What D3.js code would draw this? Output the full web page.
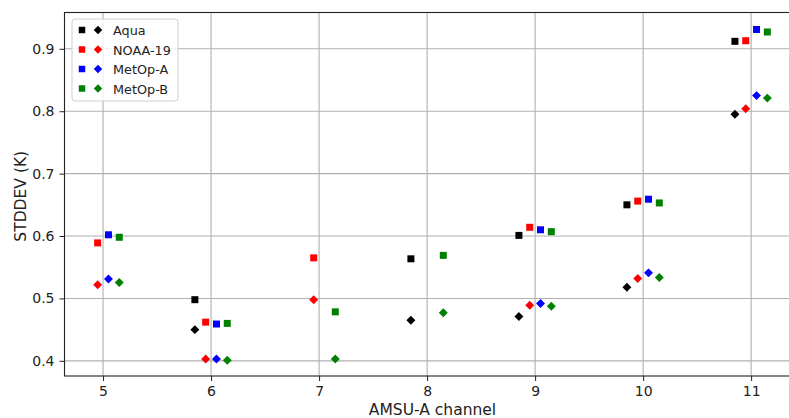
<!DOCTYPE html>
<html>
<head>
<meta charset="utf-8">
<script src="https://cdn.jsdelivr.net/npm/d3@7"></script>
<style>
  body { margin: 0; background: #fff; }
  text { font-family: "DejaVu Sans", sans-serif; fill: #222; }
</style>
</head>
<body>
<script>
// data: [channel, value]; squares + diamonds per satellite
var satellites = ["Aqua", "NOAA-19", "MetOp-A", "MetOp-B"];
var colors = ["#000000", "#ff0000", "#0000ff", "#008000"];
var offsets = [-0.15, -0.05, 0.05, 0.15];

var aquaSquare = [[6, 0.498], [8, 0.5635], [9, 0.601], [10, 0.650], [11, 0.912]];
var aquaDiamond = [[6, 0.450], [8, 0.465], [9, 0.471], [10, 0.518], [11, 0.795]];
var noaaSquare = [[5, 0.589], [6, 0.462], [7, 0.565], [9, 0.614], [10, 0.656], [11, 0.913]];
var noaaDiamond = [[5, 0.522], [6, 0.403], [7, 0.498], [9, 0.489], [10, 0.532], [11, 0.804]];
var metopaSquare = [[5, 0.602], [6, 0.459], [9, 0.610], [10, 0.659], [11, 0.931]];
var metopaDiamond = [[5, 0.531], [6, 0.403], [9, 0.492], [10, 0.541], [11, 0.825]];
var metopbSquare = [[5, 0.598], [6, 0.460], [7, 0.4785], [8, 0.569], [9, 0.607], [10, 0.653], [11, 0.927]];
var metopbDiamond = [[5, 0.5255], [6, 0.401], [7, 0.403], [8, 0.477], [9, 0.4875], [10, 0.5335], [11, 0.821]];

var squares = [aquaSquare, noaaSquare, metopaSquare, metopbSquare];
var diamonds = [aquaDiamond, noaaDiamond, metopaDiamond, metopbDiamond];

var xTicks = [5, 6, 7, 8, 9, 10, 11];
var yTicks = [0.4, 0.5, 0.6, 0.7, 0.8, 0.9];

var svg = d3.select("body")
    .append("svg")
    .attr("width", 789)
    .attr("height", 418)
    .style("display", "block");

var margin = {top: 12.5, left: 64.5};
var width = 736, height = 363.5;

var g = svg.append("g").attr("transform", "translate(" + margin.left + "," + margin.top + ")");

var x = d3.scaleLinear().domain([4.643, 11.457]).range([0, width]);
var y = d3.scaleLinear().domain([0.3757, 0.9582]).range([height, 0]);

// grid
g.append("g").selectAll("line").data(xTicks).enter().append("line")
    .attr("x1", d => x(d)).attr("x2", d => x(d))
    .attr("y1", 0).attr("y2", height)
    .attr("stroke", "#b0b0b0").attr("stroke-width", 1.1);
g.append("g").selectAll("line").data(yTicks).enter().append("line")
    .attr("x1", 0).attr("x2", width)
    .attr("y1", d => y(d)).attr("y2", d => y(d))
    .attr("stroke", "#b0b0b0").attr("stroke-width", 1.1);

var xAxis = d3.axisBottom(x).tickValues(xTicks).tickSize(5).tickPadding(5).tickFormat(d3.format("d"));
var yAxis = d3.axisLeft(y).tickValues(yTicks).tickSize(5).tickPadding(5).tickFormat(d3.format(".1f"));

function styleAxis(a) {
    a.select(".domain").remove();
    a.selectAll("line").attr("stroke", "#222");
    a.selectAll("text").style("font-size", "14px").style("font-family", "DejaVu Sans").attr("fill", "#222");
}

g.append("g").attr("transform", "translate(0," + height + ")").call(xAxis).call(styleAxis);
g.append("g").call(yAxis).call(styleAxis);

// frame
g.append("rect")
    .attr("x", 0).attr("y", 0).attr("width", width).attr("height", height)
    .attr("fill", "none").attr("stroke", "#222").attr("stroke-width", 1.1);

var sq = d3.symbol().type(d3.symbolSquare).size(49);
var dm = d3.symbol().type(d3.symbolSquare).size(40);

satellites.forEach(function(s, i) {
    g.append("g").selectAll("path").data(squares[i]).enter().append("path")
        .attr("d", sq)
        .attr("transform", d => "translate(" + x(d[0] + offsets[i]) + "," + y(d[1]) + ")")
        .attr("fill", colors[i]);
    g.append("g").selectAll("path").data(diamonds[i]).enter().append("path")
        .attr("d", dm)
        .attr("transform", d => "translate(" + x(d[0] + offsets[i]) + "," + y(d[1]) + ") rotate(45)")
        .attr("fill", colors[i]);
});

// legend
var legend = svg.append("g").attr("transform", "translate(72,19)");
legend.append("rect")
    .attr("width", 106).attr("height", 82).attr("rx", 3)
    .attr("fill", "#fff").attr("fill-opacity", 0.8)
    .attr("stroke", "#d0d0d0");
satellites.forEach(function(s, i) {
    var row = legend.append("g").attr("transform", "translate(0," + (11 + i * 19.5) + ")");
    row.append("path").attr("d", d3.symbol().type(d3.symbolSquare).size(42))
        .attr("transform", "translate(10,0)").attr("fill", colors[i]);
    row.append("path").attr("d", d3.symbol().type(d3.symbolSquare).size(36))
        .attr("transform", "translate(26,0) rotate(45)").attr("fill", colors[i]);
    row.append("text").attr("x", 41).attr("y", 5).text(s).style("font-size", "12.8px");
});

svg.append("text")
    .attr("x", margin.left + width / 2).attr("y", 415)
    .attr("text-anchor", "middle")
    .style("font-size", "15.5px")
    .text("AMSU-A channel");

svg.append("text")
    .attr("transform", "translate(25.5," + (margin.top + height / 2 + 2) + ") rotate(-90)")
    .attr("text-anchor", "middle")
    .style("font-size", "15.5px")
    .text("STDDEV (K)");
</script>
</body>
</html>
